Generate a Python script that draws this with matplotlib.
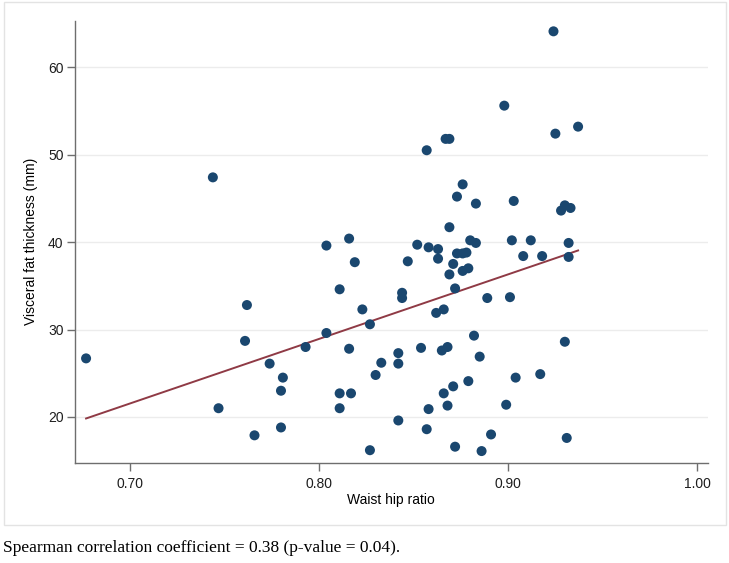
import numpy as np
import matplotlib
matplotlib.use("Agg")
import matplotlib.pyplot as plt
from matplotlib.patches import Rectangle

# waist hip ratio vs visceral fat thickness (mm)
waist_hip = [0.677, 0.744, 0.747, 0.762, 0.761, 0.766, 0.774, 0.781, 0.780, 0.780,
             0.793, 0.804, 0.804, 0.811, 0.816, 0.819, 0.816, 0.811, 0.811, 0.817,
             0.823, 0.827, 0.827, 0.830, 0.833, 0.842, 0.842, 0.842, 0.844, 0.844,
             0.847, 0.852, 0.854, 0.857, 0.857, 0.858, 0.858, 0.862, 0.863, 0.863,
             0.865, 0.866, 0.866, 0.867, 0.868, 0.868, 0.869, 0.869, 0.869, 0.871,
             0.871, 0.872, 0.872, 0.873, 0.873, 0.876, 0.876, 0.876, 0.878, 0.879,
             0.879, 0.880, 0.882, 0.883, 0.883, 0.885, 0.886, 0.889, 0.891, 0.898,
             0.899, 0.901, 0.902, 0.903, 0.904, 0.908, 0.912, 0.917, 0.918, 0.924,
             0.925, 0.928, 0.930, 0.933, 0.930, 0.931, 0.932, 0.932, 0.937]
fat_mm = [26.7, 47.4, 21.0, 32.8, 28.7, 17.9, 26.1, 24.5, 23.0, 18.8,
          28.0, 39.6, 29.6, 34.6, 40.4, 37.7, 27.8, 22.7, 21.0, 22.7,
          32.3, 30.6, 16.2, 24.8, 26.2, 27.3, 26.1, 19.6, 34.2, 33.6,
          37.8, 39.7, 27.9, 50.5, 18.6, 39.4, 20.9, 31.9, 39.2, 38.1,
          27.6, 32.3, 22.7, 51.8, 28.0, 21.3, 51.8, 41.7, 36.3, 37.5,
          23.5, 34.7, 16.6, 45.2, 38.7, 46.6, 38.7, 36.7, 38.8, 37.0,
          24.1, 40.2, 29.3, 44.4, 39.9, 26.9, 16.1, 33.6, 18.0, 55.6,
          21.4, 33.7, 40.2, 44.7, 24.5, 38.4, 40.2, 24.9, 38.4, 64.1,
          52.4, 43.6, 44.2, 43.9, 28.6, 17.6, 39.9, 38.3, 53.2]

x_ticks = [0.70, 0.80, 0.90, 1.00]
y_ticks = [20, 30, 40, 50, 60]

x = np.array(waist_hip)
y = np.array(fat_mm)

fig = plt.figure(figsize=(7.29, 5.63), dpi=100)
fig.patches.append(Rectangle((0.0055, 0.0675), 0.9905, 0.929, transform=fig.transFigure,
                             facecolor="white", edgecolor="#e3e3e3", lw=1.0, zorder=-5))

ax = fig.add_axes([0.1025, 0.178, 0.8683, 0.785])
ax.set_zorder(2)
ax.set_facecolor("none")

# linear fit
slope, intercept = np.polyfit(x, y, 1)
xf = np.array([x.min(), x.max()])
ax.plot(xf, slope * xf + intercept, color="#8f3a45", lw=1.4, zorder=2)

ax.scatter(x, y, s=52, color="#1a476f", edgecolors="none", zorder=3)

ax.set_xlim(0.671, 1.0055)
ax.set_ylim(14.76, 65.3)
ax.set_xticks(x_ticks)
ax.set_xticklabels([f"{t:.2f}" for t in x_ticks])
ax.set_yticks(y_ticks)
ax.grid(axis="y", color="#ececec", lw=1.0)
ax.set_axisbelow(True)

for s in ["top", "right"]:
    ax.spines[s].set_visible(False)
for s in ["left", "bottom"]:
    ax.spines[s].set_color("#6e6e6e")
    ax.spines[s].set_linewidth(1.0)

ax.tick_params(width=1.0, color="#6e6e6e", labelsize=10, labelcolor="#1e1e1e")
ax.tick_params(axis="y", length=6, pad=2)
ax.tick_params(axis="x", length=5.5, pad=5)
for lab in ax.get_xticklabels() + ax.get_yticklabels():
    lab.set_family("Liberation Sans")

ax.set_xlabel("Waist hip ratio", family="Liberation Sans", fontsize=10, labelpad=1)
ax.set_ylabel("Visceral fat thickness (mm)", family="Liberation Sans", fontsize=10, labelpad=7)

fig.text(0.004, 0.027, "Spearman correlation coefficient = 0.38 (p-value = 0.04).",
         family="Liberation Serif", fontsize=12.5, va="center", ha="left")

fig.savefig("out.png", dpi=100)
